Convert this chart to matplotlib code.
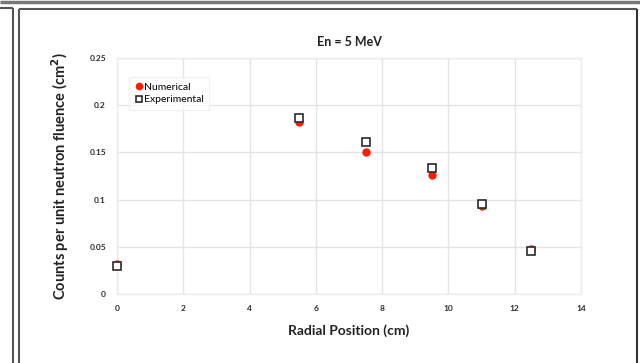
import matplotlib
matplotlib.use("Agg")
import matplotlib.pyplot as plt
from matplotlib.lines import Line2D

# Radial positions (cm) and counts per unit neutron fluence (cm^2)
radial_pos = [0, 5.5, 7.5, 9.5, 11, 12.5]
numerical = [0.032, 0.182, 0.151, 0.126, 0.093, 0.048]
experimental = [0.030, 0.186, 0.161, 0.134, 0.095, 0.046]

x_ticks = [0, 2, 4, 6, 8, 10, 12, 14]
y_ticks = [0, 0.05, 0.1, 0.15, 0.2, 0.25]
y_tick_labels = ["0", "0.05", "0.1", "0.15", "0.2", "0.25"]

plt.rcParams["font.family"] = ["Lato", "DejaVu Sans"]

fig = plt.figure(figsize=(6.4, 3.63), dpi=100)
ax = fig.add_axes([0.1828, 0.190, 0.725, 0.650])

ax.plot(radial_pos, numerical, linestyle="none", marker="o", markersize=5,
        markerfacecolor="#ff1a00", markeredgecolor="#ff1a00", label="Numerical",
        zorder=3, clip_on=False)
ax.plot(radial_pos, experimental, linestyle="none", marker="s", markersize=5.2,
        markerfacecolor="white", markeredgecolor="#2b2b2b", markeredgewidth=1.2,
        label="Experimental", zorder=4, clip_on=False)

ax.set_xlim(0, 14)
ax.set_ylim(0, 0.25)
ax.set_xticks(x_ticks)
ax.set_yticks(y_ticks)
ax.set_yticklabels(y_tick_labels)
ax.tick_params(length=0, labelsize=6, colors="#2a2a2a", pad=8)
for lbl in ax.get_xticklabels() + ax.get_yticklabels():
    lbl.set_fontweight("bold")

ax.grid(True, color="#e4e4e4", linewidth=1.0)
ax.set_axisbelow(True)
for s in ax.spines.values():
    s.set_color("#ececec")
    s.set_linewidth(1.0)

ax.set_title("En = 5 MeV", fontsize=9, fontweight="bold", color="#222222", pad=9)
ax.set_xlabel("Radial Position (cm)", fontsize=10, fontweight="bold",
              color="#222222", labelpad=9)
ax.set_ylabel("Counts per unit neutron fluence (cm$^\\mathbf{2}$)", fontsize=10.5,
              fontweight="bold", color="#222222", labelpad=13)

leg = ax.legend(loc="upper left", bbox_to_anchor=(0.015, 0.94), fontsize=7.5,
                frameon=True, fancybox=False, handletextpad=0.1,
                handlelength=0.8, borderpad=0.5, labelspacing=0.3,
                markerscale=0.9)
leg.get_frame().set_edgecolor("#eeeeee")
leg.get_frame().set_linewidth(1.0)

# Page frames around the chart
def fline(xs, ys, color="#555555", lw=1.5):
    fig.add_artist(Line2D(xs, ys, transform=fig.transFigure, color=color,
                          linewidth=lw, solid_capstyle="butt"))

H, W = 363.0, 640.0
fline([0, 1], [1 - 1.5 / H, 1 - 1.5 / H], color="#777777", lw=2.5)
fline([0, 12.5 / W], [1 - 7.5 / H, 1 - 7.5 / H])
fline([12.5 / W, 12.5 / W], [0, 1 - 7.5 / H])
fline([19 / W, 19 / W], [0, 1 - 8.5 / H])
fline([19 / W, 637 / W], [1 - 8.5 / H, 1 - 8.5 / H])
fline([637 / W, 637 / W], [0, 1 - 8.5 / H], color="#333333")

fig.savefig("out.png", dpi=100)
